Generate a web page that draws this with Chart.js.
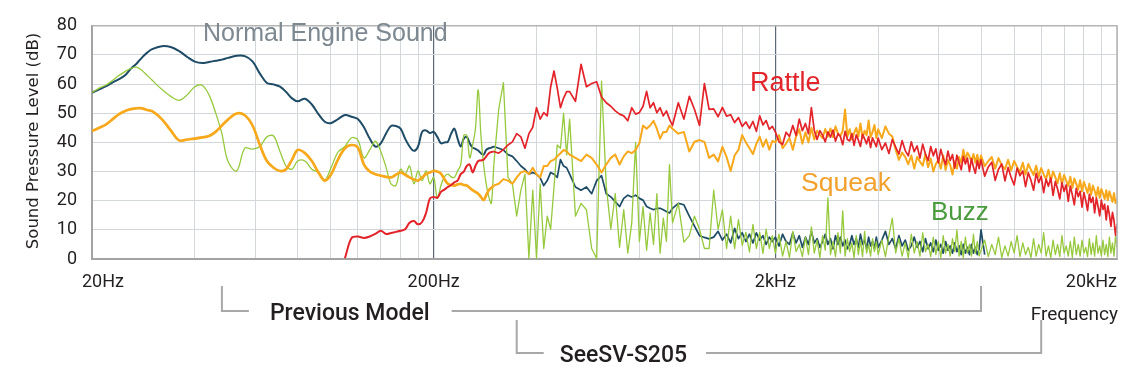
<!DOCTYPE html>
<html><head><meta charset="utf-8">
<script src="https://cdn.jsdelivr.net/npm/chart.js@4.4.1/dist/chart.umd.min.js"></script>
<style>html,body{margin:0;padding:0;background:#fff;}canvas{display:block;}</style>
</head><body>
<canvas id="c" width="1131" height="379"></canvas>
<script>
// ---- frequency grid (Hz) ----
const freqLow = [20,21,22,23,24,25,26,27,28,29,30,32,34,36,38,40,42,44,46,48,50,53,56,59,62,65,68,71,74,77,80,84,88,92,96,100,105,110,115,120,125,130,135,140,145,150,155,160,165,170,175,180,185,190,195];
const freqMid = [200,205,210,215,220,225,230,235,240,245,250,255,260,265,270,275,280,285,290,295,
 300,310,320,330,340,350,360,370,380,390,400,410,420,430,440,450,460,470,480,490,
 500,520,540,560,580,600,620,640,660,680,700,720,740,760,780,800,820,840,860,880,900,920,940,960,980,
 1000,1040,1080,1120,1160,1200,1240,1280,1320,1360,1400,1440,1480,1520,1560,1600,1640,1680,1720,1760,1800,1840,1880,1920,1960];
const freqHigh = [2000,2050,2100,2150,2200,2250,2300,2350,2400,2450,2500,2550,2600,2650,2700,2750,2800,2850,2900,2950,
 3000,3050,3100,3150,3200,3250,3300,3350,3400,3450,3500,3550,3600,3650,3700,3750,3800,3850,3900,3950,
 4000,4100,4200,4300,4400,4500,4600,4700,4800,4900,5000,5100,5200,5300,5400,5500,5600,5700,5800,5900,
 6000,6100,6200,6300,6400,6500,6600,6700,6800,6900,7000,7100,7200,7300,7400,7500,7600,7700,7800,7900,
 8000,8200,8400,8600,8800,9000,9200,9400,9600,9800,10000,10200,10400,10600,10800,11000,11200,11400,11600,11800,
 12000,12200,12400,12600,12800,13000,13200,13400,13600,13800,14000,14200,14400,14600,14800,15000,15200,15400,15600,15800,
 16000,16200,16400,16600,16800,17000,17200,17400,17600,17800,18000,18200,18400,18600,18800,19000,19200,19400,19600,19800,20000];

// ---- Normal Engine Sound (dB) ----
const engineLow = [57.1,58.2,59.3,60.6,61.7,63.0,65.3,67.0,69.1,70.8,72.0,
 73.0,72.7,71.3,69.3,67.7,67.2,67.6,68.0,68.4,69.0,
 69.7,69.6,67.8,63.6,60.4,59.9,59.1,57.3,55.1,54.1,
 55.0,53.0,49.7,47.1,46.6,
 48.0,49.4,48.8,48.0,45.2,41.3,38.6,39.7,43.0,45.6,45.6,44.7,41.3,38.6,37.1,38.6,43.6,44.1,43.2];
const engineMid = [43.6,41.9,39.7,40.0,40.2,43.0,44.7,41.3,38.6,41.3,41.9,39.7,38.2,37.8,37.2,36.3,35.8,37.4,38.0,38.2,
 38.6,38.0,37.4,35.8,35.2,33.6,31.9,30.8,29.1,29.7,29.1,27.8,25.2,26.9,29.7,29.1,28.0,34.1,31.9,31.3,
 29.1,24.7,23.6,24.7,22.4,26.9,28.6,22.4,21.3,19.7,18.0,20.8,21.9,21.3,21.9,20.8,20.2,18.0,17.4,16.9,17.4,17.4,16.9,16.3,15.8,
 17.4,19.1,18.6,14.7,11.3,8.0,7.4,6.9,7.5,9.5,6.5,8.5,5.5,10.5,7.0,9.0,6.0,8.5,5.5,9.0,6.5,8.0,5.0,7.5,6.0];
const engineHigh = [7.5,4.5,8.5,6.0,5.0,9.0,5.5,8.0,4.0,7.5,5.0,9.5,5.5,7.0,4.0,6.0,8.5,5.0,7.0,3.5,
 8.0,5.0,7.5,4.5,6.5,3.5,5.0,8.0,5.0,7.0,4.0,8.5,5.0,6.5,3.5,7.5,4.5,6.0,3.5,7.5,
 4.0,6.5,9.5,5.0,7.0,3.5,8.0,4.5,6.5,3.0,4.5,7.5,4.0,6.0,2.5,7.0,3.5,5.5,2.5,6.5,
 3.0,5.0,2.0,6.0,3.0,4.5,2.0,5.5,2.5,4.5,1.5,5.0,2.0,4.0,1.5,5.0,2.0,4.0,1.5,3.5,
 10.0,1.5];

// ---- Rattle (dB), starts at 110 Hz ----
const rattleStartHz = 110;
const rattleLow = [0.3,7.2,7.7,7.2,7.7,8.6,9.7,8.6,8.9,9.3,9.7,10.2,12.4,13.0,11.9,12.7,15.8,20.8];
const rattleMid = [21.3,21.0,23.0,23.8,24.7,25.4,26.3,26.9,29.1,30.0,31.9,32.4,29.7,31.9,33.6,33.8,34.1,35.2,36.3,36.7,
 36.9,36.3,37.5,39.1,40.2,43.0,41.9,38.0,43.0,45.2,51.9,48.0,50.2,49.1,59.1,64.5,58.6,51.9,55.2,57.4,
 57.4,54.1,66.8,59.1,60.2,60.8,55.6,53.6,52.4,50.8,49.7,49.1,47.4,51.9,49.7,50.2,52.4,57.5,51.9,53.6,50.2,51.9,49.1,50.8,48.0,
 45.8,53.6,48.0,55.8,51.3,45.8,60.2,51.3,51.5,48.8,52.0,49.0,49.5,46.8,48.5,45.5,47.0,44.8,47.2,43.8,49.1,46.0,47.5,44.5,45.5];
const rattleHigh = [43.6,40.2,39.3,43.5,42.0,45.8,42.4,48.0,44.0,46.5,43.0,51.9,44.2,41.0,44.0,42.5,40.2,43.6,41.8,44.2,
 40.4,43.0,42.0,39.2,43.8,41.0,40.5,43.0,39.0,42.6,40.8,38.6,42.8,41.2,39.5,42.0,38.2,41.6,40.0,38.5,
 41.5,37.5,39.8,36.2,41.0,38.4,36.0,40.6,37.2,35.4,40.2,36.8,38.8,34.6,39.4,36.0,33.8,38.6,35.4,37.8,
 33.0,37.6,34.6,32.4,37.0,33.8,35.8,31.2,35.6,33.0,30.6,35.2,32.6,34.6,30.0,34.4,31.6,29.4,33.8,31.0,
 34.0,28.4,31.6,33.2,27.0,30.8,32.6,26.8,31.4,28.0,25.4,31.2,28.6,30.2,24.8,29.6,27.0,23.6,29.4,26.2,
 28.4,22.8,27.4,25.0,27.8,21.8,26.6,24.0,20.6,26.2,23.2,25.4,19.8,25.0,22.0,18.6,24.2,21.4,23.2,17.8,
 22.8,20.0,16.6,22.2,19.4,21.2,15.8,21.0,18.0,14.8,20.2,17.0,18.8,13.4,18.2,15.2,11.2,16.0,13.2,8.2,12.0];

// ---- Squeak (dB) ----
const squeakLow = [43.9,45.0,46.2,48.0,49.7,50.8,51.4,51.7,51.7,51.1,50.7,
 48.0,44.1,40.7,41.0,41.3,41.7,42.2,43.6,45.8,47.8,
 49.9,49.3,45.8,39.1,33.6,31.3,30.2,30.8,34.1,37.4,
 36.3,33.6,29.7,26.9,28.9,
 34.2,38.0,39.1,38.2,32.4,30.0,29.1,28.6,28.2,28.0,28.9,29.7,28.9,28.0,27.3,26.9,28.0,29.1,29.7];
const squeakMid = [30.2,30.0,29.3,27.4,25.8,25.4,25.2,25.6,25.8,25.4,25.2,24.4,23.6,23.0,22.4,21.3,20.2,21.9,23.6,24.4,
 25.2,25.8,27.4,26.9,25.8,28.0,29.7,30.2,29.1,31.3,29.1,28.0,31.9,31.9,33.6,34.1,35.2,36.3,37.4,36.9,
 35.8,34.7,33.6,35.8,34.7,32.4,29.7,32.4,34.7,35.8,32.4,35.2,36.9,36.3,37.4,39.7,45.8,44.7,45.8,47.4,44.7,41.3,43.6,43.6,45.8,
 44.7,43.0,43.6,36.9,40.2,40.8,40.2,34.7,35.8,33.5,38.5,35.0,30.2,35.5,37.5,42.5,40.0,38.0,36.0,39.5,42.0,38.5,41.0,37.5,40.5];
const squeakHigh = [40.0,42.5,38.0,39.6,41.5,37.5,42.0,44.5,39.5,43.5,40.0,45.0,41.0,44.0,42.6,41.5,44.6,42.0,44.8,41.8,
 45.5,43.0,42.2,44.0,51.3,42.0,44.5,41.0,43.2,45.0,42.0,46.5,41.5,44.0,42.5,47.5,41.8,43.5,46.0,41.5,
 44.5,41.5,45.5,43.0,42.0,37.5,34.0,36.5,35.0,32.5,35.5,31.0,35.0,33.4,32.0,36.0,31.5,34.5,30.0,32.6,
 34.0,31.0,35.5,30.5,34.0,32.2,29.0,33.5,31.0,35.0,33.0,37.5,34.0,36.5,35.2,33.5,36.0,33.0,35.8,32.5,
 35.5,31.8,33.6,35.0,31.0,34.6,32.2,30.8,34.0,30.4,33.6,31.6,29.8,33.0,29.0,32.6,30.6,28.8,32.0,28.2,
 31.2,29.0,27.4,30.6,26.8,30.0,28.0,26.0,29.4,25.6,28.8,27.0,25.0,28.2,24.4,27.6,25.8,23.8,27.0,23.2,
 26.4,24.6,22.6,25.8,22.0,25.2,23.4,21.4,24.6,21.0,24.0,22.4,20.6,23.6,20.2,23.2,21.4,19.6,22.6,19.2,20.5];

// ---- Buzz (dB) ----
const buzzLow = [57.1,58.6,59.7,61.3,63.0,64.3,65.4,65.8,64.7,63.0,61.3,
 58.2,55.8,54.4,56.3,59.1,59.6,56.3,50.2,43.0,33.5,
 30.2,38.0,37.7,38.6,41.9,42.2,36.9,31.9,30.8,33.6,
 33.6,30.8,29.7,27.1,31.1,
 36.7,38.6,41.6,40.8,34.7,37.4,40.4,36.9,31.6,25.8,25.2,30.8,29.1,31.9,25.8,30.2,26.9,30.2,25.8];
const buzzMid = [28.0,20.8,25.2,28.2,29.1,28.2,28.0,30.2,32.4,42.4,42.4,34.7,39.1,44.7,58.0,42.4,32.4,25.8,21.3,19.1,
 32.4,51.3,60.5,28.0,25.8,14.7,23.6,29.1,0.2,23.6,0.2,25.8,3.6,14.7,10.2,24.7,39.1,38.0,50.0,35.7,
 48.0,14.7,19.1,16.9,3.6,0.2,61.0,25.0,10.2,22.4,4.0,16.9,2.0,12.4,40.0,6.0,18.0,3.0,15.8,5.0,22.4,2.0,14.0,6.0,32.4,
 12.4,19.1,5.8,8.0,14.7,10.2,3.6,3.6,23.6,10.2,16.9,3.6,14.7,3.6,13.5,4.7,9.1,2.4,11.9,3.6,9.1,1.9,10.2,3.6,8.0];
const buzzHigh = [2.0,8.5,1.0,6.0,0.5,9.5,2.5,5.0,0.8,7.5,1.5,11.0,2.0,6.5,0.5,8.0,3.0,21.0,1.5,6.0,
 0.8,9.0,2.0,16.5,1.0,7.0,2.5,5.5,0.5,8.0,1.5,6.5,0.8,9.5,2.0,5.0,1.0,7.0,2.5,6.0,
 1.5,6.5,0.8,8.0,14.0,2.0,7.0,1.0,5.5,0.5,8.5,2.0,6.0,1.0,9.0,2.5,5.0,0.8,7.5,1.5,
 6.0,0.5,8.0,2.0,5.0,1.0,7.0,2.5,10.0,1.0,6.0,0.5,7.5,2.0,5.0,1.0,8.5,2.0,6.0,1.0,
 3.0,6.5,0.8,5.0,1.5,7.5,0.5,4.5,1.0,6.0,2.0,8.0,0.8,5.5,1.5,4.0,0.5,7.0,1.0,5.0,
 2.0,9.0,1.0,4.5,0.5,6.5,1.5,5.0,0.8,8.0,2.0,4.5,1.0,6.0,0.5,7.5,1.5,5.0,1.0,6.5,
 2.0,4.0,0.8,7.0,1.5,5.5,1.0,8.0,2.0,4.5,1.0,6.5,1.5,5.0,0.8,7.5,2.0,5.5,1.0,8.0,4.0];

// ---- axes / annotations ----
const yMin = 0, yMax = 80, yStep = 10;
const xMinHz = 20, xMaxHz = 20000;
const xGridHz = [20,40,60,80,100,120,140,160,180,200,400,600,800,1000,1200,1400,1600,1800,2000,4000,6000,8000,10000,12000,14000,16000,18000,20000];
const majorGridHz = [200,2000];
const xTickHz = [20,200,2000,20000];
const xTickLabels = ['20Hz','200Hz','2kHz','20kHz'];
const previousModelRangeHz = [48,8000];
const seesvRangeHz = [350,12000];
const smoothUntilHz = 300;

const freqs = freqLow.concat(freqMid, freqHigh);
function toPoints(vals, startHz) {
  const i0 = freqs.indexOf(startHz);
  return vals.map((v, i) => ({x: freqs[i0 + i], y: v}));
}
function seriesSets(label, vals, startHz, color, wLow, wHigh) {
  const p = toPoints(vals, startHz);
  return [
    {label: label, data: p.filter(q => q.x >= smoothUntilHz), borderColor: color, borderWidth: wHigh, tension: 0},
    {label: label + ' (low)', data: p.filter(q => q.x <= smoothUntilHz), borderColor: color, borderWidth: wLow, tension: 0.35}
  ];
}

const decor = {
  id: 'decor',
  afterDraw(chart) {
    const {ctx, chartArea: a, scales: {x}} = chart;
    ctx.save();
    ctx.strokeStyle = '#b4b4b4'; ctx.lineWidth = 1.5;
    ctx.beginPath(); ctx.moveTo(a.left, a.top); ctx.lineTo(a.right, a.top); ctx.lineTo(a.right, a.bottom); ctx.stroke();

    ctx.fillStyle = '#231f20'; ctx.font = '18px Roboto'; ctx.textBaseline = 'alphabetic';
    xTickHz.forEach((v, i) => {
      const px = x.getPixelForValue(v);
      if (i === 0) { ctx.textAlign = 'left'; ctx.fillText(xTickLabels[i], px - 10, 287); }
      else if (i === xTickHz.length - 1) { ctx.textAlign = 'right'; ctx.fillText(xTickLabels[i], px, 287); }
      else { ctx.textAlign = 'center'; ctx.fillText(xTickLabels[i], px, 287); }
    });
    ctx.font = '19px Roboto';
    ctx.textAlign = 'right'; ctx.fillText('Frequency', a.right + 1, 320);

    ctx.save();
    ctx.translate(34, 141); ctx.rotate(-Math.PI / 2);
    ctx.textAlign = 'center'; ctx.textBaseline = 'middle';
    ctx.font = '16.5px "DejaVu Sans"'; ctx.fillStyle = '#231f20';
    ctx.fillText('Sound Pressure Level (dB)', 0, 0);
    ctx.restore();

    ctx.textAlign = 'left'; ctx.textBaseline = 'alphabetic';
    ctx.font = '25px "Liberation Sans"'; ctx.fillStyle = '#7d8891'; ctx.fillText('Normal Engine Sound', 203, 41);
    ctx.font = '27px "Liberation Sans"'; ctx.fillStyle = '#e2252b'; ctx.fillText('Rattle', 750, 91);
    ctx.font = '26.5px "Liberation Sans"'; ctx.fillStyle = '#f3a02c'; ctx.fillText('Squeak', 801, 191);
    ctx.font = '26px "Liberation Sans"'; ctx.fillStyle = '#4b9b3f'; ctx.fillText('Buzz', 931, 220);

    function bracket(range, yLine, yTop, label, gapL, gapR) {
      const xl = x.getPixelForValue(range[0]), xr = x.getPixelForValue(range[1]);
      ctx.font = '500 23px Roboto';
      const w = ctx.measureText(label).width;
      const tx = xl + gapL;
      ctx.strokeStyle = '#a8a8a8'; ctx.lineWidth = 2;
      ctx.beginPath();
      ctx.moveTo(xl, yTop); ctx.lineTo(xl, yLine); ctx.lineTo(xl + 27, yLine);
      ctx.moveTo(tx + w + gapR, yLine); ctx.lineTo(xr, yLine); ctx.lineTo(xr, yTop);
      ctx.stroke();
      ctx.fillStyle = '#231f20'; ctx.textAlign = 'left'; ctx.textBaseline = 'alphabetic';
      ctx.fillText(label, tx, yLine + 8.5);
    }
    bracket(previousModelRangeHz, 311, 286, 'Previous Model', 48, 22);
    bracket(seesvRangeHz, 353, 320, 'SeeSV-S205', 43, 19);
    ctx.restore();
  }
};

new Chart(document.getElementById('c'), {
  type: 'line',
  data: {
    datasets: [].concat(
      seriesSets('Rattle', rattleLow.concat(rattleMid, rattleHigh), rattleStartHz, '#e3232a', 2, 1.7),
      seriesSets('Squeak', squeakLow.concat(squeakMid, squeakHigh), freqLow[0], '#f7a81b', 2.7, 2),
      seriesSets('Buzz', buzzLow.concat(buzzMid, buzzHigh), freqLow[0], '#96c93d', 1.3, 1.3),
      seriesSets('Normal Engine Sound', engineLow.concat(engineMid, engineHigh), freqLow[0], '#1e4b66', 2, 1.7)
    )
  },
  options: {
    responsive: false, animation: false, devicePixelRatio: 1,
    layout: {padding: {top: 19, right: 14, left: 0, bottom: 0}},
    elements: {point: {radius: 0, hitRadius: 0}, line: {fill: false, borderJoinStyle: 'round'}},
    plugins: {legend: {display: false}, tooltip: {enabled: false}},
    scales: {
      x: {
        type: 'logarithmic', min: xMinHz, max: xMaxHz,
        afterBuildTicks: s => { s.ticks = xGridHz.map(v => ({value: v})); },
        afterFit: s => { s.height = 120; },
        ticks: {display: false},
        grid: {
          drawTicks: false,
          color: c => majorGridHz.includes(c.tick && c.tick.value) ? '#5a6a7b' : '#d3d7db',
          lineWidth: c => majorGridHz.includes(c.tick && c.tick.value) ? 1.2 : 1
        },
        border: {color: '#a3a3a3', width: 2}
      },
      y: {
        min: yMin, max: yMax,
        afterFit: s => { s.width = 92; },
        ticks: {stepSize: yStep, color: '#231f20', font: {family: 'Roboto', size: 18}, padding: 15},
        grid: {drawTicks: false, color: '#d3d7db', lineWidth: 1},
        border: {color: '#a3a3a3', width: 2}
      }
    }
  },
  plugins: [decor]
});
</script>
</body></html>
